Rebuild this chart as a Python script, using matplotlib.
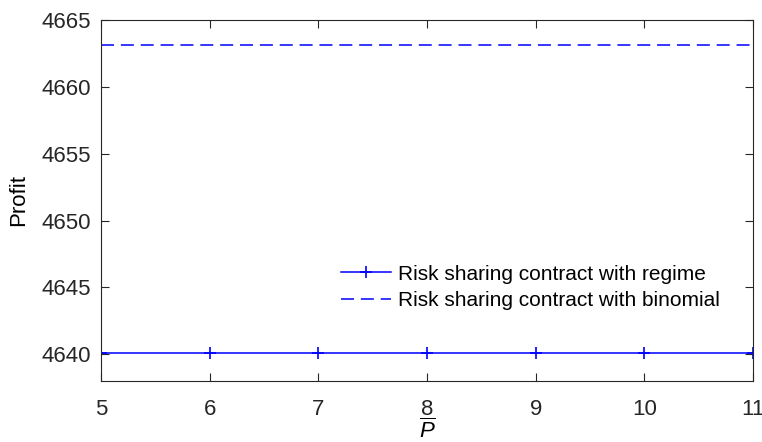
import matplotlib.pyplot as plt

plt.rcParams['font.family'] = ['Liberation Sans', 'DejaVu Sans']
plt.rcParams['mathtext.fontset'] = 'custom'
plt.rcParams['mathtext.it'] = 'Liberation Sans:italic'
plt.rcParams['mathtext.rm'] = 'Liberation Sans'

p_bar = [5, 6, 7, 8, 9, 10, 11]
profit_regime = [4640.1, 4640.1, 4640.1, 4640.1, 4640.1, 4640.1, 4640.1]
profit_binomial = [4663.1, 4663.1, 4663.1, 4663.1, 4663.1, 4663.1, 4663.1]

fig = plt.figure(figsize=(7.62, 4.42), dpi=100)
ax = fig.add_axes([101 / 762, 61 / 442, 652 / 762, 361 / 442])

ax.plot(p_bar, profit_regime, color='#0000ff', linestyle='-', marker='+',
        markersize=8, markeredgewidth=1.2, linewidth=1.1,
        label='Risk sharing contract with regime')
ax.plot(p_bar, profit_binomial, color='#0000ff', linestyle='--', dashes=(8.5, 4.5),
        linewidth=1.1, label='Risk sharing contract with binomial')

ax.set_xlim(5, 11)
ax.set_ylim(4638, 4665)
ax.set_yticks([4640, 4645, 4650, 4655, 4660, 4665])
ax.set_xlabel(r'$\overline{P}$', fontsize=16, labelpad=-1)
ax.set_ylabel('Profit', fontsize=16, labelpad=9)

for s in ax.spines.values():
    s.set_color('#262626')
    s.set_linewidth(0.8)
ax.tick_params(direction='in', top=True, right=True, labelsize=16,
               colors='#262626', length=5.5, width=0.8)
ax.tick_params(axis='y', pad=7)
ax.tick_params(axis='x', pad=13)

ax.legend(loc='upper left', bbox_to_anchor=(232 / 652, 0.345), frameon=False,
          fontsize=15, handlelength=2.4, handletextpad=0.3, labelspacing=0.35,
          borderaxespad=0)

fig.savefig('out.png', dpi=100)
